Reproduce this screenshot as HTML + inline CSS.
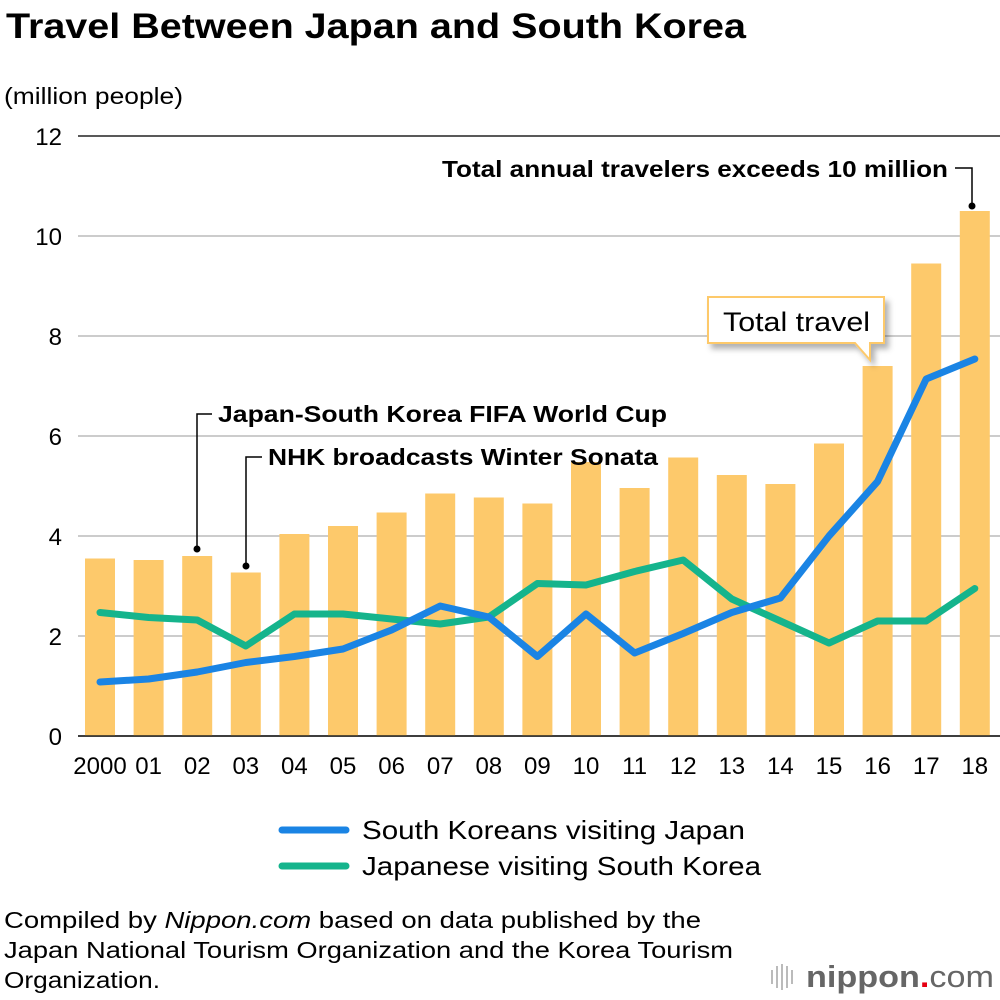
<!DOCTYPE html>
<html><head><meta charset="utf-8"><style>
body{margin:0;background:#fff;width:1000px;height:1000px;overflow:hidden;font-family:"Liberation Sans",Arial,sans-serif}
svg{display:block}
</style></head><body>
<svg id="chart" width="1000" height="1000" font-family="Liberation Sans, Arial, sans-serif">
<defs><filter id="sh" x="-20%" y="-20%" width="150%" height="160%"><feDropShadow dx="4" dy="5" stdDeviation="3" flood-color="#000" flood-opacity="0.3"/></filter></defs>
<text x="6" y="38" font-size="35" font-weight="bold" textLength="740" lengthAdjust="spacingAndGlyphs">Travel Between Japan and South Korea</text>
<text x="4" y="104" font-size="23" textLength="179" lengthAdjust="spacingAndGlyphs">(million people)</text>
<g id="grid"></g>
<g id="bars"></g>
<g id="lines"></g>
<g id="xlabels"></g>
<g>
<polyline points="212,414 197,414 197,548" fill="none" stroke="#000" stroke-width="1.5"/>
<circle cx="197" cy="549" r="3.5"/>
<text x="218" y="422" font-size="23" font-weight="bold" textLength="449" lengthAdjust="spacingAndGlyphs">Japan-South Korea FIFA World Cup</text>
</g>
<g>
<polyline points="262,457 246,457 246,565" fill="none" stroke="#000" stroke-width="1.5"/>
<circle cx="246" cy="566" r="3.5"/>
<text x="268" y="465" font-size="23" font-weight="bold" textLength="390" lengthAdjust="spacingAndGlyphs">NHK broadcasts Winter Sonata</text>
</g>
<g>
<text x="442" y="177" font-size="23" font-weight="bold" textLength="506" lengthAdjust="spacingAndGlyphs">Total annual travelers exceeds 10 million</text>
<polyline points="955,168 972,168 972,205" fill="none" stroke="#000" stroke-width="1.5"/>
<circle cx="972" cy="206" r="3.5"/>
</g>
<g>
<path d="M708,297 H884 V343 H870 V360 L855,343 H708 Z" fill="#fff" stroke="#fdc96b" stroke-width="2" filter="url(#sh)"/>
<text x="723" y="331" font-size="27" textLength="147" lengthAdjust="spacingAndGlyphs">Total travel</text>
</g>
<g>
<line x1="282" y1="830" x2="346" y2="830" stroke="#1a84e4" stroke-width="7" stroke-linecap="round"/>
<text x="362" y="839" font-size="26" textLength="383" lengthAdjust="spacingAndGlyphs">South Koreans visiting Japan</text>
<line x1="282" y1="866" x2="346" y2="866" stroke="#15b48c" stroke-width="7" stroke-linecap="round"/>
<text x="362" y="875" font-size="26" textLength="399" lengthAdjust="spacingAndGlyphs">Japanese visiting South Korea</text>
</g>
<g font-size="23">
<text x="4" y="928" textLength="697" lengthAdjust="spacingAndGlyphs">Compiled by <tspan font-style="italic">Nippon.com</tspan> based on data published by the</text>
<text x="4" y="958" textLength="729" lengthAdjust="spacingAndGlyphs">Japan National Tourism Organization and the Korea Tourism</text>
<text x="4" y="988" textLength="156" lengthAdjust="spacingAndGlyphs">Organization.</text>
</g>
<g>
<g stroke="#bbb" stroke-width="2"><line x1="772" y1="970" x2="772" y2="984"/><line x1="777" y1="966" x2="777" y2="988"/><line x1="782" y1="964" x2="782" y2="990"/><line x1="787" y1="966" x2="787" y2="988"/><line x1="792" y1="970" x2="792" y2="984"/></g>
<text x="806" y="987" font-size="31" fill="#666" font-weight="bold" textLength="188" lengthAdjust="spacingAndGlyphs">nippon<tspan fill="#e60012">.</tspan><tspan font-weight="normal">com</tspan></text>
</g>
</svg>
<script>
const years=["2000","01","02","03","04","05","06","07","08","09","10","11","12","13","14","15","16","17","18"];
const totals=[3.55,3.52,3.6,3.27,4.04,4.2,4.47,4.85,4.77,4.65,5.48,4.96,5.57,5.22,5.04,5.85,7.4,9.45,10.5];
const koreansToJapan=[1.08,1.14,1.28,1.47,1.59,1.74,2.12,2.6,2.38,1.59,2.44,1.66,2.05,2.47,2.76,4.0,5.09,7.14,7.54];
const japaneseToKorea=[2.47,2.37,2.32,1.8,2.44,2.44,2.34,2.24,2.38,3.05,3.02,3.29,3.52,2.74,2.3,1.86,2.3,2.3,2.95];
const yTicks=[0,2,4,6,8,10,12];
const NS="http://www.w3.org/2000/svg";
const x=i=>100+i*48.6;
const y=v=>736-v*50;
function mk(t,a,p){const e=document.createElementNS(NS,t);for(const k in a)e.setAttribute(k,a[k]);p.appendChild(e);return e;}
const grid=document.getElementById('grid');
yTicks.forEach(t=>{
  const l=mk('line',{x1:78,x2:1000,y1:y(t),y2:y(t),stroke:t===12||t===0?'#222':'#ccc','stroke-width':t===12||t===0?1.5:2},grid);
  
  
  const tx=mk('text',{x:62,y:y(t)+9,'font-size':24,'text-anchor':'end'},grid);
  tx.textContent=t;
  
  
});
const bars=document.getElementById('bars');
totals.forEach((v,i)=>{
  const r=mk('rect',{x:x(i)-15,y:y(v),width:30,height:y(0)-y(v),fill:'#fdc96b'},bars);
  
  
});
const zl=mk('line',{x1:78,x2:1000,y1:736,y2:736,stroke:'#222','stroke-width':1.5},bars);


const lines=document.getElementById('lines');
[[japaneseToKorea,'#15b48c','line-japanese-visiting-korea'],[koreansToJapan,'#1a84e4','line-koreans-visiting-japan']].forEach(([d,c,n])=>{
  const p=mk('polyline',{points:d.map((v,i)=>x(i)+','+y(v)).join(' '),fill:'none',stroke:c,'stroke-width':7,'stroke-linejoin':'round','stroke-linecap':'round'},lines);
  
  
});
const xl=document.getElementById('xlabels');
years.forEach((t,i)=>{
  const tx=mk('text',{x:x(i),y:774,'font-size':24,'text-anchor':'middle'},xl);
  tx.textContent=t;
  
  
});
</script>
</body></html>
